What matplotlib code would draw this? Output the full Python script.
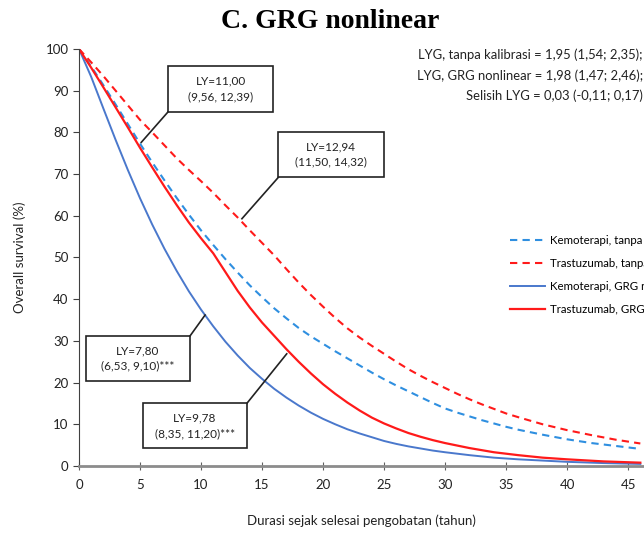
import matplotlib
matplotlib.use('Agg')
import matplotlib.pyplot as plt
from matplotlib.patches import Rectangle

plt.rcParams['font.family'] = ['Lato', 'DejaVu Sans']

# Survival curves (percent alive by years since end of treatment)
kemo_tanpa_x = list(range(0, 37)) + [38, 40, 42, 44, 46]
kemo_tanpa_y = [100, 95.8, 91.3, 86.7, 82.0, 77.3, 72.8, 68.5, 64.3, 60.3, 56.5, 53.0, 49.6, 46.4, 43.3, 40.5,
                37.8, 35.4, 33.1, 31.1, 29.3, 27.5, 25.8, 24.1, 22.4, 20.8, 19.3, 17.9, 16.5, 15.1, 13.8,
                12.8, 11.9, 11.0, 10.2, 9.4, 8.7, 7.5, 6.4, 5.5, 4.8, 4.1]

tras_tanpa_x = list(range(0, 37)) + [38, 40, 42, 44, 46]
tras_tanpa_y = [100, 96.8, 93.5, 90.0, 86.5, 83.0, 80.0, 76.9, 73.8, 71.0, 68.3, 65.5, 62.5, 59.6, 56.5, 53.5,
                50.5, 47.2, 44.0, 41.0, 38.2, 35.5, 33.0, 30.8, 28.8, 26.9, 25.0, 23.2, 21.6, 20.1, 18.7,
                17.3, 16.0, 14.8, 13.7, 12.6, 11.7, 10.0, 8.6, 7.4, 6.3, 5.4]

kemo_grg_x = list(range(0, 31)) + [32, 34, 36, 38, 40, 43, 46]
kemo_grg_y = [100, 93.3, 85.7, 78.2, 71.0, 64.2, 57.9, 52.1, 46.8, 41.9, 37.5, 33.5, 29.8, 26.5, 23.5, 20.9,
              18.5, 16.4, 14.5, 12.8, 11.3, 10.0, 8.8, 7.8, 6.9, 6.0, 5.3, 4.7, 4.2, 3.7, 3.3,
              2.6, 2.0, 1.6, 1.3, 1.0, 0.7, 0.5]

tras_grg_x = list(range(0, 31)) + [32, 34, 36, 38, 40, 43, 46]
tras_grg_y = [100, 95.5, 90.8, 86.0, 81.2, 76.3, 71.6, 67.0, 62.6, 58.4, 54.6, 51.0, 46.5, 42.0, 38.0, 34.4,
              31.2, 28.0, 25.0, 22.2, 19.6, 17.3, 15.2, 13.3, 11.6, 10.2, 9.0, 7.9, 7.0, 6.2, 5.5,
              4.3, 3.3, 2.6, 2.0, 1.6, 1.1, 0.8]

labels = ['Kemoterapi, tanpa kalibrasi', 'Trastuzumab, tanpa kalibrasi',
          'Kemoterapi, GRG nonlinear', 'Trastuzumab, GRG nonlinear']

summary = ['LYG, tanpa kalibrasi = 1,95 (1,54; 2,35);',
           'LYG, GRG nonlinear = 1,98 (1,47; 2,46);',
           'Selisih LYG = 0,03 (-0,11; 0,17)']

ly_texts = ['LY=11,00\n(9,56, 12,39)', 'LY=12,94\n(11,50, 14,32)',
            'LY=7,80\n(6,53, 9,10)***', 'LY=9,78\n(8,35, 11,20)***']

fig = plt.figure(figsize=(6.44, 5.33), dpi=100)
ax = fig.add_axes([0.1227, 0.1257, 0.8773, 0.7824])

blue_d = '#2F8FE0'
blue_s = '#4A78CC'
red = '#FF1A1A'
ax.plot(kemo_tanpa_x, kemo_tanpa_y, color=blue_d, lw=1.5, dashes=(3.5, 2.5), label=labels[0])
ax.plot(tras_tanpa_x, tras_tanpa_y, color=red, lw=1.5, dashes=(3.5, 2.5), label=labels[1])
ax.plot(kemo_grg_x, kemo_grg_y, color=blue_s, lw=1.4, label=labels[2])
ax.plot(tras_grg_x, tras_grg_y, color=red, lw=1.6, label=labels[3])

ax.set_xlim(0, 46.3)
ax.set_ylim(0, 100)
ax.set_xticks(range(0, 50, 5))
ax.set_yticks(range(0, 101, 10))
ax.spines['top'].set_visible(False)
ax.spines['right'].set_visible(False)
ax.spines['left'].set_color('#404040')
ax.spines['bottom'].set_color('#8c8c8c')
ax.spines['bottom'].set_linewidth(2)
ax.tick_params(axis='y', direction='out', length=4, color='#404040', labelsize=9.5, labelcolor='#222222')
ax.tick_params(axis='x', direction='inout', length=6, color='#606060', labelsize=9.5, labelcolor='#222222', pad=6)

ax.set_ylabel('Overall survival (%)', fontsize=9.5, labelpad=14, color='#222222')
ax.set_xlabel('Durasi sejak selesai pengobatan (tahun)', fontsize=9.5, labelpad=17, color='#222222')

# LY boxes: (x0, y0, x1, y1) box extents, anchor corner and curve point
boxes = [
    ((7.32, 85.0, 15.88, 95.9), (7.32, 85.0), (5.1, 77.6)),
    ((16.33, 69.2, 25.0, 80.2), (16.33, 69.2), (13.35, 59.3)),
    ((0.57, 20.5, 9.10, 31.2), (9.10, 31.2), (10.33, 36.2)),
    ((5.22, 4.2, 13.75, 15.0), (13.75, 15.0), (17.02, 26.9)),
]
for txt, (ext, corner, pt) in zip(ly_texts, boxes):
    x0, y0, x1, y1 = ext
    ax.add_patch(Rectangle((x0, y0), x1 - x0, y1 - y0, fill=True, fc='white', ec='#222222', lw=1.2, zorder=5))
    ax.text((x0 + x1) / 2, (y0 + y1) / 2, txt, ha='center', va='center', fontsize=8.5,
            linespacing=1.5, color='#222222', zorder=6)
    ax.plot([corner[0], pt[0]], [corner[1], pt[1]], color='#222222', lw=1.2, zorder=4)

ax.legend(loc='upper left', bbox_to_anchor=(0.763, 0.555), frameon=False, fontsize=8.3,
          handlelength=3.0, handletextpad=0.5, labelspacing=1.05, borderpad=0, borderaxespad=0)

for i, s in enumerate(summary):
    fig.text(0.998, 1 - (55 + 20.5 * i) / 533, s, ha='right', va='center', fontsize=9.4, color='#222222')

fig.text(330 / 644, 1 - 21 / 533, 'C. GRG nonlinear', ha='center', va='center',
         fontsize=20, fontweight='bold', family='Liberation Serif')

fig.savefig('out.png', dpi=100)
